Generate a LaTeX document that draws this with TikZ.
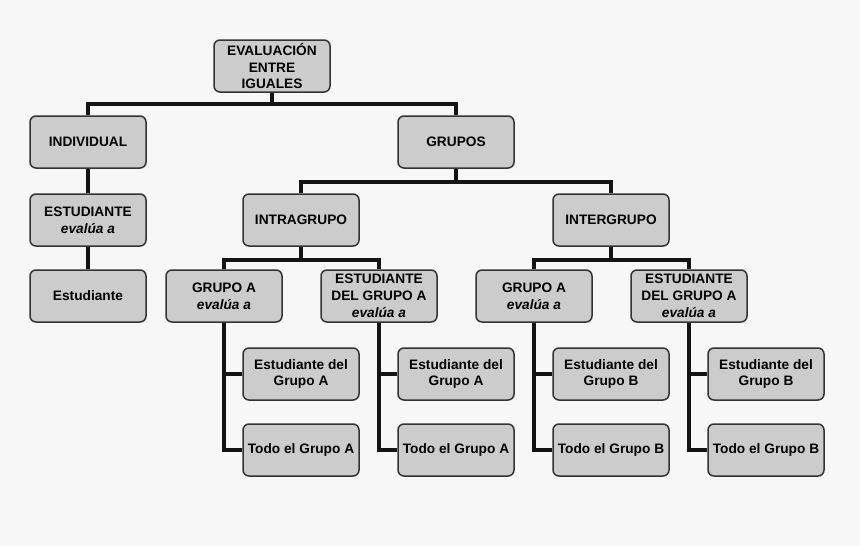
\documentclass[tikz,border=0pt]{standalone}
\usepackage{fontspec}
\setmainfont{Liberation Sans}
\begin{document}
\begin{tikzpicture}[x=1pt,y=-1pt,
  box/.style={draw=black!80,line width=1.5pt,fill=black!20,rounded corners=6pt,
    minimum width=116pt,minimum height=52pt,inner sep=1pt,align=center,
    font=\fontsize{13.7}{16.8}\selectfont\bfseries},
  conn/.style={line width=3.8pt,black!92}]
\fill[black!3] (0,0) rectangle (860,546);
\useasboundingbox (0,0) rectangle (860,546);
\node[box] (root) at (272,66) {EVALUACIÓN\\ENTRE\\IGUALES};
\node[box] (ind) at (88,142) {INDIVIDUAL};
\node[box] (gru) at (456,142) {GRUPOS};
\node[box] (est) at (88,220) {ESTUDIANTE\\\textit{evalúa a}};
\node[box] (estl) at (88,296) {Estudiante};
\node[box] (intra) at (301,220) {INTRAGRUPO};
\node[box] (inter) at (611,220) {INTERGRUPO};
\node[box] (ga1) at (224,296) {GRUPO A\\\textit{evalúa a}};
\node[box] (eg1) at (379,296) {ESTUDIANTE\\DEL GRUPO A\\\textit{evalúa a}};
\node[box] (ga2) at (534,296) {GRUPO A\\\textit{evalúa a}};
\node[box] (eg2) at (689,296) {ESTUDIANTE\\DEL GRUPO A\\\textit{evalúa a}};
\node[box] (l1a) at (301,374) {Estudiante del\\Grupo A};
\node[box] (l1b) at (301,450) {Todo el Grupo A};
\node[box] (l2a) at (456,374) {Estudiante del\\Grupo A};
\node[box] (l2b) at (456,450) {Todo el Grupo A};
\node[box] (l3a) at (611,374) {Estudiante del\\Grupo B};
\node[box] (l3b) at (611,450) {Todo el Grupo B};
\node[box] (l4a) at (766,374) {Estudiante del\\Grupo B};
\node[box] (l4b) at (766,450) {Todo el Grupo B};
\draw[conn] (root.south) -- ++(0,11) -| (ind.north);
\draw[conn] (root.south) ++(0,11) -| (gru.north);
\draw[conn] (ind.south) -- (est.north);
\draw[conn] (est.south) -- (estl.north);
\draw[conn] (gru.south) -- ++(0,13) -| (intra.north);
\draw[conn] (gru.south) ++(0,13) -| (inter.north);
\draw[conn] (intra.south) -- ++(0,13) -| (ga1.north);
\draw[conn] (intra.south) ++(0,13) -| (eg1.north);
\draw[conn] (inter.south) -- ++(0,13) -| (ga2.north);
\draw[conn] (inter.south) ++(0,13) -| (eg2.north);
\draw[conn] (ga1.south) |- (l1a.west);
\draw[conn] (ga1.south) |- (l1b.west);
\draw[conn] (eg1.south) |- (l2a.west);
\draw[conn] (eg1.south) |- (l2b.west);
\draw[conn] (ga2.south) |- (l3a.west);
\draw[conn] (ga2.south) |- (l3b.west);
\draw[conn] (eg2.south) |- (l4a.west);
\draw[conn] (eg2.south) |- (l4b.west);
\end{tikzpicture}
\end{document}
